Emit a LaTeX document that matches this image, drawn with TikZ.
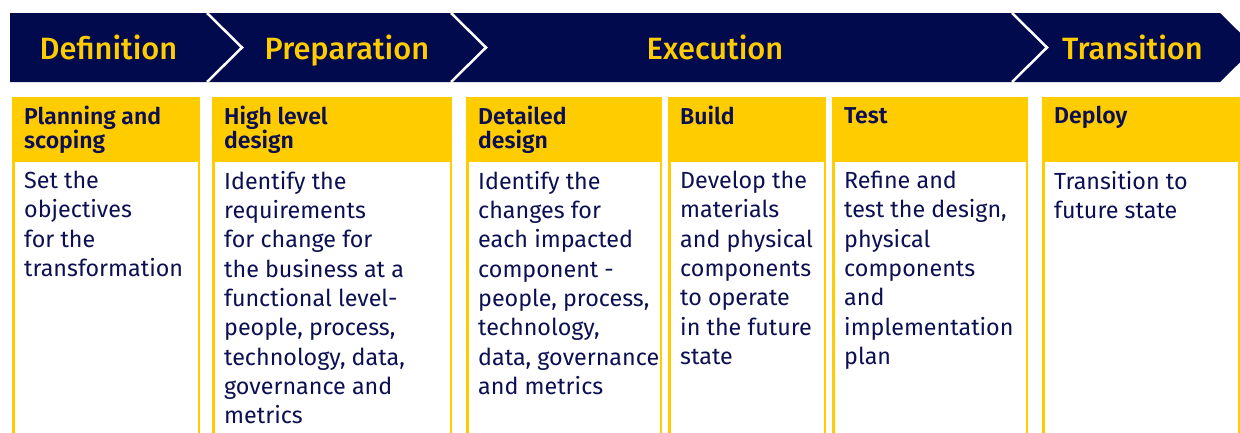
\documentclass[tikz,border=0pt]{standalone}
\usepackage{fontspec}
\setmainfont{Fira Sans}
\newfontfamily\medfont{Fira Sans Medium}
\newfontfamily\semifont{Fira Sans SemiBold}
\definecolor{navy}{RGB}{2,10,78}
\definecolor{ink}{RGB}{12,16,82}
\definecolor{gold}{RGB}{255,204,0}
\begin{document}
\begin{tikzpicture}[x=1pt,y=-1pt,line join=miter,
    phase/.style={anchor=base,text=gold,inner sep=0,font=\medfont\fontsize{30.8}{34}\selectfont},
    colhead/.style={anchor=north west,inner sep=0,align=left,text=ink,execute at begin node=\strut,font=\semifont\fontsize{23}{24}\selectfont},
    colbody/.style={anchor=north west,inner sep=0,align=left,text=ink,execute at begin node=\strut,font=\fontsize{23.3}{29.3}\selectfont}]
  \useasboundingbox (0,0) rectangle (1240,432);
  \fill[navy] (10,13) -- (1220,13) -- (1255,47.5) -- (1220,82) -- (10,82) -- cycle;
  \foreach \x in {207,451,1012}
    \draw[white,line width=2.5] (\x,13) -- (\x+35,47.5) -- (\x,82);
  \node[phase] (D) at (108.5,59) {Definition};
  \node[phase] (P) at (347,59) {Preparation};
  \node[phase] (E) at (715,59) {Execution};
  \node[phase] (T) at (1132.5,59) {Transition};

  \foreach \n/\l/\r in {c1/12/200,c2/212/452,c3/466/662,c4/668/826,c5/832/1028,c6/1042/1240}{
    \fill[gold] (\l,97) rectangle (\r,440);
    \fill[white] (\l+2.5,162) rectangle (\r-2.5,440);
    \coordinate (\n h) at (\l+12,106);
    \coordinate (\n b) at (\l+12,171);
  }
  \node[colhead] (H1) at (c1h) {Planning and\\scoping};
  \node[colhead] (H2) at (c2h) {High level\\design};
  \node[colhead] (H3) at (c3h) {Detailed\\design};
  \node[colhead] (H4) at (c4h) {Build};
  \node[colhead] (H5) at (c5h) {Test};
  \node[colhead] (H6) at (c6h) {Deploy};

  \node[colbody] (B1) at (c1b) {Set the\\objectives\\for the\\transformation};
  \node[colbody] (B2) at (c2b) {Identify the\\requirements\\for change for\\the business at a\\functional level-\\people, process,\\technology, data,\\governance and\\metrics};
  \node[colbody] (B3) at (c3b) {Identify the\\changes for\\each impacted\\component -\\people, process,\\technology,\\data, governance\\and metrics};
  \node[colbody] (B4) at (c4b) {Develop the\\materials\\and physical\\components\\to operate\\in the future\\state};
  \node[colbody] (B5) at (c5b) {Refine and\\test the design,\\physical\\components\\and\\implementation\\plan};
  \node[colbody] (B6) at (c6b) {Transition to\\future state};
\end{tikzpicture}
\end{document}
